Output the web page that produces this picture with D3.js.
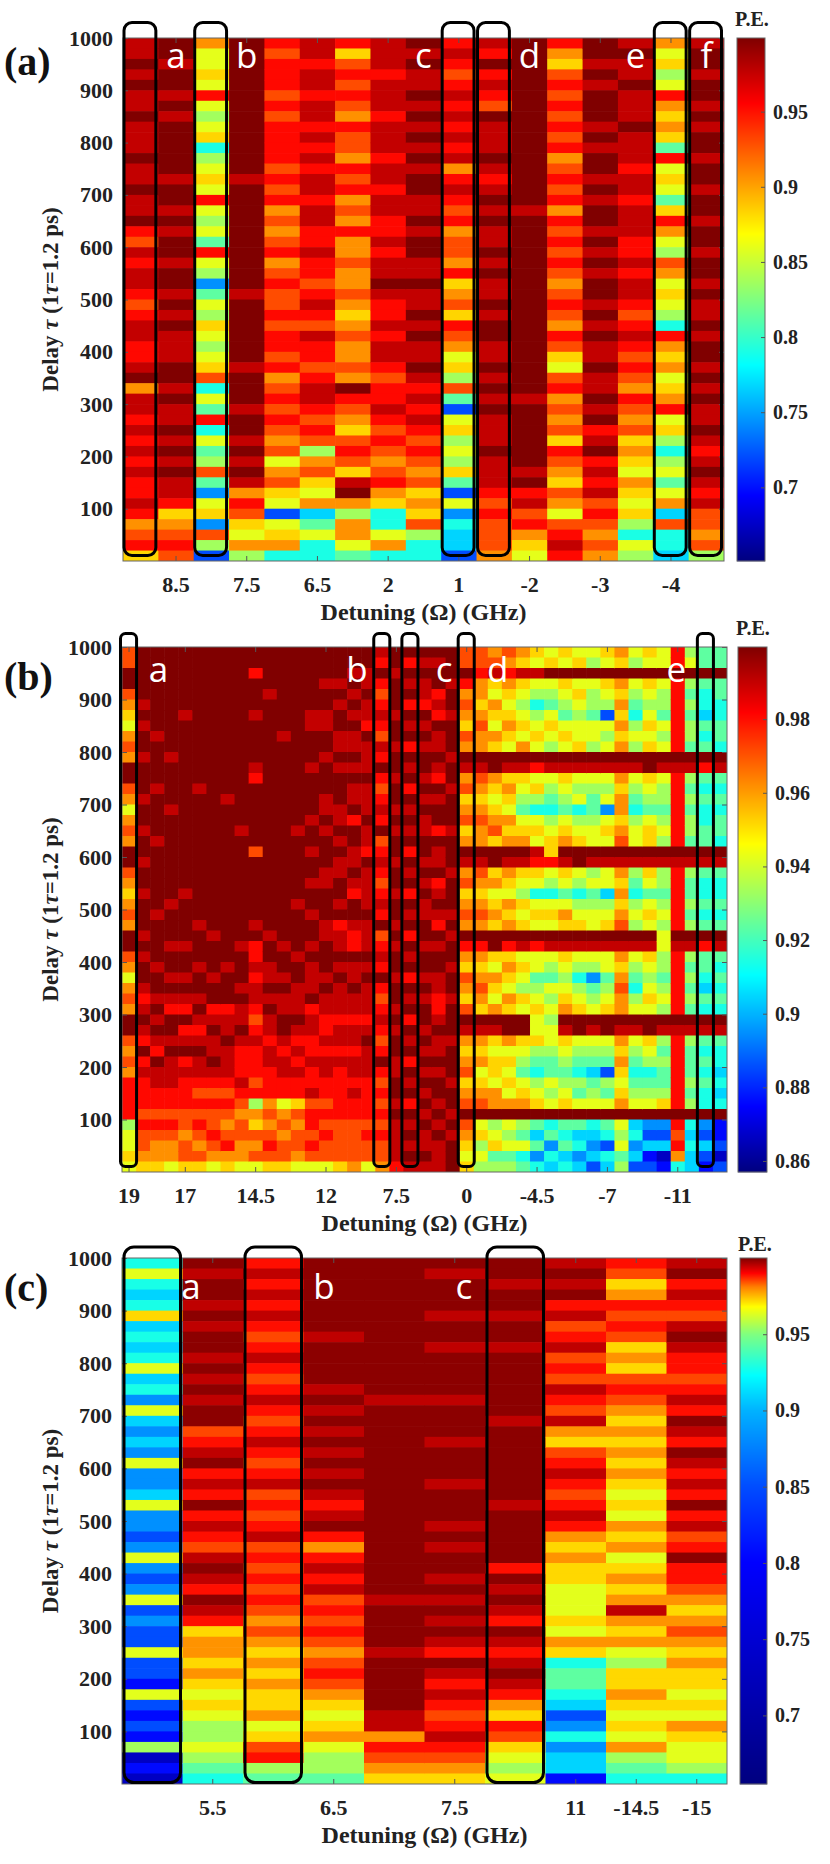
<!DOCTYPE html>
<html><head><meta charset="utf-8">
<script src="https://cdn.jsdelivr.net/npm/d3@7"></script>
<style>body{margin:0;background:#fff}svg{display:block}</style>
</head><body>
<script>
// ---------------- DATA ----------------
// Each column string: 50 cells from delay 1000 (top) down to 0 (bottom), 20 delay units per cell.
// A hex digit is an index into the panel's P.E. level table.
const levelsA = [0.651,0.6742,0.6974,0.7206,0.7438,0.767,0.7902,0.8134,0.8366,0.8598,0.883,0.9062,0.9294,0.9526,0.9758,0.999];
const levelsB = [0.857,0.8665,0.876,0.8855,0.895,0.9045,0.914,0.9236,0.9331,0.9426,0.9521,0.9616,0.9711,0.9806,0.9901,0.9996];
const levelsC = [0.656,0.732,0.806,0.85,0.883,0.910,0.928,0.943,0.955,0.964,0.972,0.979,0.985,0.989,0.995,0.999];

const colsA = [
"eefefeefee efeefeefdc edeedcdeed defbeedede deddedbcda",
"ffeffefeff fffeffefef feffefefee effefeefef efeedabcdc",
"b99a9d989a 689a9d9897 d984798a98 9ac697d697 8c749a4c83",
"ffffffffff fffeffffff ffffefffff fefffeffef efebdca9b8",
"dcdddcdcdd ddcdcdbcbc dbcdccdcdd cdbcdcdcbc 9bca939ab6",
"eedeedeede dedeedeedd eddcdedced dcdeedcdc8 bca9b57966",
"dacdcdcbdc cbdcdbcbdb bcbbcbabcb bcbfdcbacd caefb8bb97",
"eeedeeedee edeedeedde deefeddede edcddedcdc bcdba669b6",
"fefeefefef efeffeefef feefeefefe efedededcd cbcabac866",
"dedcdedede debdedcdbc cbdabcadcb 9a8c739a89 8a73946553",
"edfdedcfee efedefefee fefeefeffe efefefeeef eeedcdcccb",
"ffffffffff ffffffefff ffffffffff ffffefffff fefdecdba9",
"dbacdcdcdc dbcdcdbdcd cdcbcdcbdc a9cdbcbcad cbacb9cded",
"ffefefffef effefeffef efeffefefe efeefefdef dedecdcbcb",
"efeefeeefe eedeedeeed dedeedcded cdcbdcbcab a9ba9a8698",
"b9a89dbaba 7d9a97adb9 8cb9a986db ab9abd9a86 8979b5c665",
"effeffefef feffeffeff effefeefef fefefeefed efedeccbc8"
];
const xTickLabelsA = ["8.5","7.5","6.5","2","1","-2","-3","-4"];
const xTickColsA = [1,3,5,7,9,11,13,15];
const boxColsA = [0,2,9,10,15,16];
const letterTextA = ["a","b","c","d","e","f"];
const letterColA = [1,3,8,11,14,16];

const colsB = [
"ccffcba9bc bffcb9bcbf fcbabcbffc b9bcbffcbc bdddd899a9",
"fffffefeff efffeffeff effefffefe ffedefedfd edddcdccba",
"ffffffffef fffeffffef fffffeffff effefefedf eeddcdcbba",
"ffffffffff effffeffff ffffefffef fefedffefe eeddcdcbb9",
"ffffffefff ffffffffff fffeffffef fefedfdefd edddccbcca",
"ffffffffff fffeffffff ffffffefff effefedefe edcdcdcbca",
"ffffffffff ffffffffff fffffffeff feffdefeef edcdccdcb9",
"ffffffffff ffffefffff ffffffffff efffdeefee edcdcbcdba",
"ffffffffff fffffffeff ffffffffef ffefeefedd dedcbccbb9",
"ffdfffefff fedffffffc ffffffefdd edeedcdedd dcd8bacbc9",
"ffffefffff ffffffffff fffffffeff eefefeedee dddbcbcdca",
"ffffffffef ffffffffff ffffffffef fefeeffede edd9bcbcca",
"ffffffffff fffffffeff ffffeffffe ffeeefeded eddacbccb9",
"ffffffeeff feffffeffe ffeffeffef eeefdeedde ddecddcdc9",
"fffeffeeff efffeefeff feefffeeff fefeeddede eddcdcdcc9",
"fffefeffee fefffeefef eeffefdeef efeeedeede dddddcccca",
"ffefefefee fefeefdffe efedffeddf eefeedeede ededdccccb",
"ffeefeedfe eefeeefeed feeeefeeef efeeedefee eddddcdcc9",
"edfdcdedce dfdcdedfcd edcdedfcde dfdcdedcdf dcdcdcdccb",
"ffefffeffe ffeffefeff effeffefef feffefeffe effefeeeed",
"fdfefdfefd fefdfefefd fefdfefdfe fdfefdfefd fefdfefefe",
"fefeedfefe ffefefeeff efefeeffef fefeffefef efefefeefe",
"feffdedfee fedfeffdfe efdefedfef feeddefeef effefefeee",
"fffeffefff effefffeff fefffefeff effefffeff feffefefff",
"ccfdbcbacb febcabcabf ebcabcbfdb acbacfebab cabcfcba9a",
"ccdbbabcbb fecbabcbbf ecbabcbfdb abcbafebab 9abcf9a898",
"bcea9ba9ba ffba9abcaf fab9abaffa 9ba9bfea9a a9bbf89a78",
"cbdba9aba9 feaba9babf eba9babfda ba9baffb9a 9a9bf98978",
"baea989a9b fea9879abf ea98a9afe9 a98a9ffa98 79abf87967",
"a9e98689a9 fd9a869a9e da969a9fd9 9789a99a87 689af75746",
"9af9879a98 fe987689aa d9869a9fe9 8798989987 7989f67465",
"a9fa9879a9 fea9879abf ea979bafea 989abfea98 789af76756",
"9af9a9899a fe989689af f98689afe9 8689aff987 6879f75645",
"98f9887998 fe9877899f e897899fe9 84789fe987 5789f65453",
"a9fa983989 fe98949a9f e99589afe9 9789aff987 3879f76365",
"bafbababab febabbabcf ebababcfeb abcbbfebab a9abf98978",
"98f9876898 fe9876899f e876898fe9 87689fe987 6789f56453",
"a9fa989a9a ffa9879aaf ea979a9fea 989a9ffa98 6789f43523",
"99f9887989 fe9887898f e887898998 87898fe878 778af43512",
"ddfddddddd fedddddddf eddddddfed dddddfeddd ddddfdcdb6",
"89f8787887 fe8787887f e877878fe8 78787fe877 7878f65655",
"77f7665767 fd7676677f e766767fd7 76576fe767 6766f43532",
"77f7766776 fe7676776f e766767fe7 67676fe766 5656f22313"
];
const xTickLabelsB = ["19","17","14.5","12","7.5","0","-4.5","-7","-11"];
const xTickColsB = [0,4,9,14,19,24,29,34,39];
const boxColsB = [0,18,20,24,41];
const letterTextB = ["a","b","c","d","e"];
const letterColB = [2.1,16.2,22.4,26.2,38.9];

const colsC = [
"69656a5656 9564954549 4459443494 3493433933 2932328121",
"feffefeffe fefeffcdef dedfdedcef edfedabbab a9a9889876",
"dedededcde dcdedcdedc decdcdecdc dcdcbcbaba baab9acd87",
"fffffffeff ffefefefef efedefdbde decdcdcbcd cba9ab9887",
"ffffffffff fffeffffff ffffffffff ffeffffeff fffeebdcba",
"fefffeffef fffefffeff fefffefeff efefefedfe dedcdedcba",
"ffeffeffef fffffeffff fffefffffd fefedfedef edbadca989",
"efefdecdec dcedcebacd edcdedbaba a999a9ba67 7653464552",
"dcabdcdcab acdcbababa ba9a9bab9a babebab98a aba9a9b876",
"efdedcefed dcdedfedfe dedfdecdfd dcbabcbaba a9a9ba9986"
];
const xTickLabelsC = ["5.5","6.5","7.5","11","-14.5","-15"];
const xTickColsC = [1,3,5,7,8,9];
const boxColsC = [0,2,6];
const letterTextC = ["a","b","c"];
const letterColC = [0.64,2.84,5.15];

const yTickValues = [100,200,300,400,500,600,700,800,900,1000];
const cbTicksA = [0.7,0.75,0.8,0.85,0.9,0.95];
const cbLabelsA = ["0.7","0.75","0.8","0.85","0.9","0.95"];
const cbTicksB = [0.86,0.88,0.9,0.92,0.94,0.96,0.98];
const cbLabelsB = ["0.86","0.88","0.9","0.92","0.94","0.96","0.98"];
const cbTicksC = [0.7,0.75,0.8,0.85,0.9,0.95];
const cbLabelsC = ["0.7","0.75","0.8","0.85","0.9","0.95"];
// panel (c) colour bar: P.E. value -> position along the jet map
const cMapValues = [0.655,0.80,0.85,0.90,0.923,0.95,0.968,0.981,0.99,1.0];
const cMapPos    = [0,0.125,0.2,0.3,0.375,0.5,0.625,0.75,0.875,1];

// ---------------- DRAWING ----------------
const SERIF = "'Liberation Serif','Times New Roman',serif";
const svg = d3.select("body").append("svg").attr("width",830).attr("height",1864);

function jet(u){
  u = Math.max(0, Math.min(1, u));
  const c = t => Math.max(0, Math.min(1, t));
  return d3.rgb(255*c(1.5-Math.abs(4*u-3)), 255*c(1.5-Math.abs(4*u-2)), 255*c(1.5-Math.abs(4*u-1))).formatHex();
}
const colorA = v => jet((v-0.651)/(0.999-0.651));
const colorB = v => jet((v-0.857)/(0.9996-0.857));
const uC = d3.scaleLinear().domain(cMapValues).range(cMapPos).clamp(true);
const colorC = v => jet(uC(v));

function styleAxis(g, size){
  g.select(".domain").remove();
  g.selectAll("line").attr("stroke","#555").attr("stroke-width",1);
  g.selectAll("text").attr("font-family",SERIF).attr("font-weight","bold")
    .attr("font-size",size).attr("fill","#222");
}

function drawPanel(p){
  const cols = p.cols.map(s => s.replace(/\s+/g,""));
  const x = d3.scaleBand().domain(d3.range(cols.length)).range([p.left,p.right]);
  const y = d3.scaleLinear().domain([0,1000]).range([p.bottom,p.top]);
  const bw = x.bandwidth();
  const cells = [];
  cols.forEach((s,ci) => {
    const n = s.length;
    for (let r=0;r<n;r++) cells.push({c:ci, hi:1000-r*1000/n, lo:1000-(r+1)*1000/n, v:p.levels[parseInt(s[r],16)]});
  });
  const g = svg.append("g");
  g.append("g").selectAll("rect").data(cells).join("rect")
    .attr("x", d => x(d.c)).attr("y", d => y(d.hi))
    .attr("width", d => Math.min(bw+0.6, p.right - x(d.c)))
    .attr("height", d => Math.min(y(d.lo)-y(d.hi)+0.6, p.bottom - y(d.hi)))
    .attr("fill", d => p.color(d.v));

  // axes (MATLAB-like inward ticks on all four sides)
  const ax = (gen, tr, labels, size) => {
    const a = g.append("g").attr("transform", tr).call(gen);
    styleAxis(a, size);
    if (!labels) a.selectAll("text").remove();
  };
  ax(d3.axisLeft(y).tickValues(yTickValues).tickSize(-5).tickPadding(10).tickFormat(d3.format("d")),
     `translate(${p.left},0)`, true, 22);
  ax(d3.axisRight(y).tickValues(yTickValues).tickSize(-5), `translate(${p.right},0)`, false, 22);
  ax(d3.axisBottom(x).tickValues(p.xTickCols).tickSize(-5).tickPadding(15).tickFormat((d,i)=>p.xTickLabels[i]),
     `translate(0,${p.bottom})`, true, 22);
  ax(d3.axisTop(x).tickValues(p.xTickCols).tickSize(-5), `translate(0,${p.top})`, false, 22);
  g.append("rect").attr("x",p.left).attr("y",p.top).attr("width",p.right-p.left).attr("height",p.bottom-p.top)
    .attr("fill","none").attr("stroke","#666").attr("stroke-width",1);

  // highlight boxes
  g.append("g").selectAll("rect").data(p.boxCols).join("rect")
    .attr("x", c => x(c)+p.boxPad[0]).attr("width", bw - p.boxPad[0] - p.boxPad[1])
    .attr("y", p.top - p.boxPad[2]).attr("height", (p.bottom - p.boxPad[3]) - (p.top - p.boxPad[2]))
    .attr("rx", p.boxR).attr("ry", p.boxR)
    .attr("fill","none").attr("stroke","#000").attr("stroke-width",3);

  // white letters
  g.append("g").selectAll("text").data(p.letters).join("text")
    .attr("x", (d,i) => p.left + bw*(p.letterCols[i]+0.5)).attr("y", p.letterY)
    .attr("text-anchor","middle").attr("font-family","'Open Sans',sans-serif")
    .attr("font-size",35).attr("fill","#fff").text(d => d);

  // panel tag
  g.append("text").attr("x",4).attr("y",p.tagY).attr("font-family",SERIF).attr("font-weight","bold")
    .attr("font-size",40).attr("fill","#111").text(p.tag);

  // axis titles
  g.append("text").attr("x",(p.left+p.right)/2).attr("y",p.bottom+59).attr("text-anchor","middle")
    .attr("font-family",SERIF).attr("font-weight","bold").attr("font-size",24).attr("fill","#222")
    .text("Detuning (Ω) (GHz)");
  const yl = g.append("text").attr("transform",`translate(58,${(p.top+p.bottom)/2}) rotate(-90)`)
    .attr("text-anchor","middle").attr("font-family",SERIF).attr("font-weight","bold")
    .attr("font-size",23).attr("fill","#222");
  yl.append("tspan").text("Delay ");
  yl.append("tspan").attr("font-style","italic").text("τ");
  yl.append("tspan").text(" (1");
  yl.append("tspan").attr("font-style","italic").text("τ");
  yl.append("tspan").text("=1.2 ps)");

  // colour bar
  const cb = p.cb;
  const yc = d3.scaleLinear().domain(cb.domain).range([p.bottom,p.top]);
  const steps = d3.range(Math.floor(p.top), Math.ceil(p.bottom));
  g.append("g").selectAll("rect").data(steps).join("rect")
    .attr("x",cb.x0).attr("width",cb.x1-cb.x0).attr("y",d=>d).attr("height",1.3)
    .attr("fill", d => p.color(yc.invert(d+0.5)));
  g.append("rect").attr("x",cb.x0).attr("y",p.top).attr("width",cb.x1-cb.x0).attr("height",p.bottom-p.top)
    .attr("fill","none").attr("stroke","#666").attr("stroke-width",1);
  const ca = g.append("g").attr("transform",`translate(${cb.x1},0)`)
    .call(d3.axisRight(yc).tickValues(cb.ticks).tickSize(-4).tickPadding(8).tickFormat((d,i)=>cb.labels[i]));
  styleAxis(ca, 20);
  g.append("text").attr("x",cb.x0-2).attr("y",cb.peY).attr("font-family",SERIF).attr("font-weight","bold")
    .attr("font-size",20).attr("fill","#222").text("P.E.");
}

drawPanel({cols:colsA, levels:levelsA, color:colorA, left:123, right:724, top:38, bottom:561,
  xTickCols:xTickColsA, xTickLabels:xTickLabelsA, boxCols:boxColsA, boxPad:[1,2.5,15.5,5.5], boxR:8,
  letters:letterTextA, letterCols:letterColA, letterY:68, tag:"(a)", tagY:75,
  cb:{x0:737,x1:765,domain:[0.651,0.999],ticks:cbTicksA,labels:cbLabelsA,peY:26}});
drawPanel({cols:colsB, levels:levelsB, color:colorB, left:122, right:727, top:647, bottom:1172,
  xTickCols:xTickColsB, xTickLabels:xTickLabelsB, boxCols:boxColsB, boxPad:[-1.5,-0.5,13.5,5.5], boxR:5,
  letters:letterTextB, letterCols:letterColB, letterY:682, tag:"(b)", tagY:690,
  cb:{x0:738,x1:767,domain:[0.857,0.9996],ticks:cbTicksB,labels:cbLabelsB,peY:635}});
drawPanel({cols:colsC, levels:levelsC, color:colorC, left:122, right:727, top:1258, bottom:1784,
  xTickCols:xTickColsC, xTickLabels:xTickLabelsC, boxCols:boxColsC, boxPad:[2,2,11,1.5], boxR:10,
  letters:letterTextC, letterCols:letterColC, letterY:1299, tag:"(c)", tagY:1301,
  cb:{x0:740,x1:767,domain:[0.655,1.0],ticks:cbTicksC,labels:cbLabelsC,peY:1251}});
</script>
</body></html>
